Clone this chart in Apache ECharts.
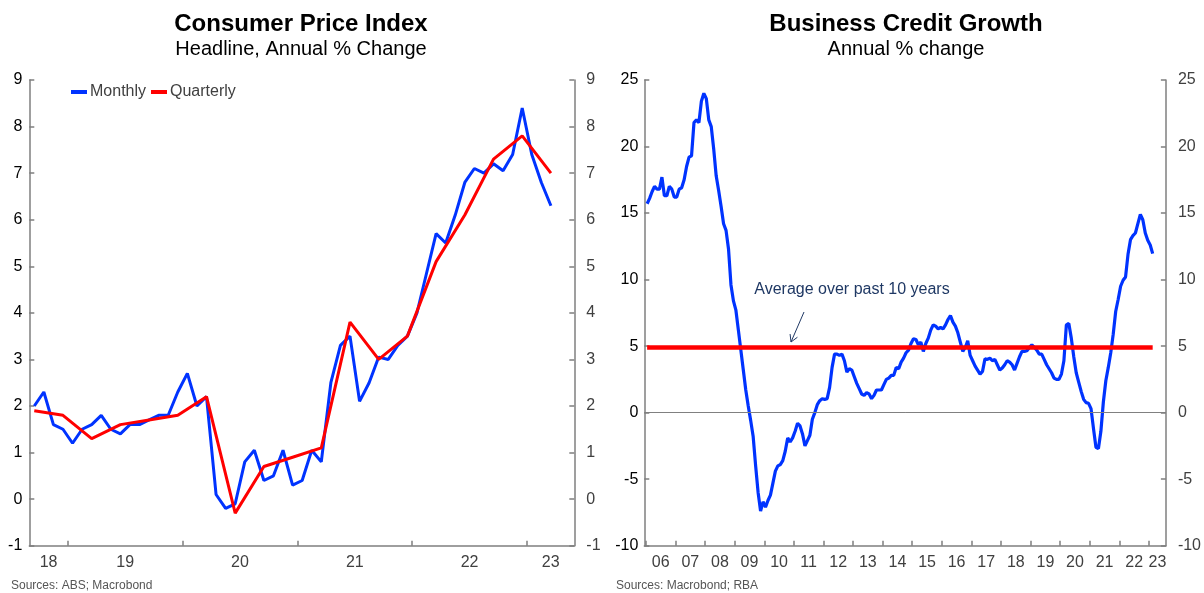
<!DOCTYPE html>
<html>
<head>
<meta charset="utf-8">
<script src="https://cdn.jsdelivr.net/npm/echarts@6/dist/echarts.min.js"></script>
<style>
html,body{margin:0;padding:0;background:#fff;}
#chart{width:1204px;height:593px;}
</style>
</head>
<body>
<div id="chart"></div>
<script>
// CPI, annual % change, monthly indicator starts Sep 2018
var cpiStart = [2018, 9];
var cpiMonthly = [
    2.0, 2.3, 1.6, 1.5,
    1.2, 1.5, 1.6, 1.8, 1.5, 1.4, 1.6, 1.6, 1.7, 1.8, 1.8, 2.3,
    2.7, 2.0, 2.2, 0.1, -0.2, -0.1, 0.8, 1.05, 0.4, 0.5, 1.05, 0.3,
    0.4, 1.05, 0.8, 2.5, 3.3, 3.5, 2.1, 2.5, 3.05, 3.0, 3.3, 3.5,
    4.0, 4.85, 5.7, 5.5, 6.1, 6.8, 7.1, 7.0, 7.2, 7.05, 7.4, 8.4,
    7.4, 6.8, 6.3
];
// quarterly CPI, Sep qtr 2018 onwards
var cpiQStart = [2018, 9];
var cpiQuarterly = [1.9, 1.8, 1.3, 1.6, 1.7, 1.8, 2.2, -0.3, 0.7, 0.9, 1.1, 3.8, 3.0, 3.5, 5.1, 6.1, 7.3, 7.8, 7.0];
var cpiYears = [2018, 2019, 2020, 2021, 2022, 2023];

// business credit, annual % change, Jan 2006 onwards
var creditStart = [2006, 1];
var creditGrowth = [
    15.7, 16.1, 16.6, 17.0, 16.8, 16.8, 17.7, 16.3, 16.3, 17.0, 16.8, 16.2,
    16.2, 16.8, 16.9, 17.5, 18.5, 19.2, 19.3, 21.8, 22.0, 21.8, 23.4, 24.0,
    23.6, 22.0, 21.5, 19.8, 17.8, 16.7, 15.5, 14.2, 13.7, 12.3, 9.6, 8.4,
    7.7, 6.2, 4.7, 3.2, 1.7, 0.5, -0.6, -1.8, -4.0, -6.0, -7.4, -6.7,
    -7.1, -6.6, -6.2, -5.3, -4.4, -4.0, -3.9, -3.6, -2.9, -1.9, -2.2, -1.9,
    -1.4, -0.8, -1.0, -1.6, -2.5, -2.1, -1.7, -0.5, 0.0, 0.6, 0.9, 1.05,
    1.0, 1.05, 1.9, 3.4, 4.4, 4.4, 4.3, 4.4, 3.9, 3.05, 3.3, 3.2,
    2.7, 2.2, 1.8, 1.4, 1.3, 1.5, 1.4, 1.05, 1.3, 1.7, 1.7, 1.7,
    2.1, 2.5, 2.6, 2.8, 2.8, 3.4, 3.3, 3.8, 4.1, 4.5, 4.7, 5.2,
    5.55, 5.5, 5.1, 5.3, 4.6, 5.2, 5.6, 6.2, 6.6, 6.5, 6.3, 6.4,
    6.3, 6.6, 7.0, 7.3, 6.8, 6.5, 6.0, 5.3, 4.6, 4.9, 5.4, 4.3,
    3.9, 3.5, 3.2, 2.9, 3.1, 4.05, 4.0, 4.1, 3.9, 4.0, 3.6, 3.2,
    3.35, 3.6, 3.9, 3.8, 3.6, 3.2, 3.7, 4.2, 4.6, 4.6, 4.65, 4.9,
    5.1, 4.9, 4.7, 4.4, 4.4, 4.0, 3.6, 3.3, 3.0, 2.6, 2.5, 2.5,
    2.9, 3.9, 6.6, 6.7, 5.6, 4.2, 3.0, 2.3, 1.6, 1.0, 0.75, 0.7,
    0.3, -1.2, -2.6, -2.7, -1.4, 0.8, 2.4, 3.4, 4.5, 5.9, 7.6, 8.5,
    9.5, 9.95, 10.2, 11.9, 13.0, 13.3, 13.5, 14.2, 14.9, 14.5, 13.5, 12.95,
    12.6, 11.95
];
var creditAvg = 4.9;
var creditYears = [2006, 2007, 2008, 2009, 2010, 2011, 2012, 2013, 2014, 2015, 2016, 2017, 2018, 2019, 2020, 2021, 2022, 2023];

var blue = '#0033ff';
var red = '#ff0000';
var axisGrey = '#7f7f7f';
var labelGrey = '#404040';
var navy = '#1f3864';

var cpiMin = 2018.665, cpiMax = 2023.412;
var crMin = 2005.946, crMax = 2023.571;

function toSeries(start, vals, step) {
    var out = [];
    for (var i = 0; i < vals.length; i++) {
        var m = start[1] - 1 + i * step;
        out.push([start[0] + (m + 0.5) / 12, vals[i]]);
    }
    return out;
}

// ticks at year starts, labels centred in the visible part of each year
function yearTicks(years, lo, hi) {
    var t = [];
    for (var i = 0; i < years.length; i++) {
        if (years[i] > lo && years[i] < hi) t.push(years[i]);
    }
    return t;
}
function yearLabels(years, lo, hi) {
    var t = [];
    for (var i = 0; i < years.length; i++) {
        var a = Math.max(years[i], lo), b = Math.min(years[i] + 1, hi);
        t.push((a + b) / 2);
    }
    return t;
}
function yearText(v) {
    var y = Math.floor(v) % 100;
    return (y < 10 ? '0' : '') + y;
}

function xAxisOf(grid, lo, hi, years) {
    return {
        type: 'value', gridIndex: grid, min: lo, max: hi,
        axisLine: {onZero: false, lineStyle: {color: axisGrey, width: 1.5}},
        axisTick: {inside: true, length: 5, customValues: yearTicks(years, lo, hi), lineStyle: {color: axisGrey, width: 1.5}},
        axisLabel: {customValues: yearLabels(years, lo, hi), formatter: yearText, color: labelGrey, fontSize: 16,
            fontFamily: 'Liberation Sans', margin: 9},
        splitLine: {show: false}
    };
}
function yAxisOf(grid, pos, lo, hi, step, col, margin) {
    return {
        type: 'value', gridIndex: grid, position: pos, min: lo, max: hi, interval: step,
        axisLine: {show: true, onZero: false, lineStyle: {color: axisGrey, width: 1.5}},
        axisTick: {show: true, inside: true, length: 5, lineStyle: {color: axisGrey, width: 1.5}},
        axisLabel: {color: col, fontSize: 16, fontFamily: 'Liberation Sans', margin: margin},
        splitLine: {show: false}
    };
}

var crData = toSeries(creditStart, creditGrowth, 1);
var avgData = [[crData[0][0], creditAvg], [crData[crData.length - 1][0], creditAvg]];

// little arrow for the annotation
var arrowFrom = [804, 312], arrowTo = [791, 342];
var dx = arrowTo[0] - arrowFrom[0], dy = arrowTo[1] - arrowFrom[1];
var len = Math.sqrt(dx * dx + dy * dy);
var ux = dx / len, uy = dy / len;
function arm(sign) {
    var ang = sign * Math.PI / 6, hl = 8;
    var rx = ux * Math.cos(ang) - uy * Math.sin(ang);
    var ry = ux * Math.sin(ang) + uy * Math.cos(ang);
    return [arrowTo[0] - rx * hl, arrowTo[1] - ry * hl];
}

var myChart = echarts.init(document.getElementById('chart'), null, {renderer: 'canvas'});
var option = {
    animation: false,
    textStyle: {fontFamily: 'Liberation Sans'},
    title: [
        {text: 'Consumer Price Index', subtext: 'Headline, Annual % Change', left: 301, top: 12, textAlign: 'center',
            itemGap: 3, padding: 0,
            textStyle: {fontSize: 24, fontWeight: 'bold', color: '#000', fontFamily: 'Liberation Sans'},
            subtextStyle: {fontSize: 20, color: '#000', fontFamily: 'Liberation Sans'}},
        {text: 'Business Credit Growth', subtext: 'Annual % change', left: 906, top: 12, textAlign: 'center',
            itemGap: 3, padding: 0,
            textStyle: {fontSize: 24, fontWeight: 'bold', color: '#000', fontFamily: 'Liberation Sans'},
            subtextStyle: {fontSize: 20, color: '#000', fontFamily: 'Liberation Sans'}}
    ],
    legend: {
        data: ['Monthly', 'Quarterly'], left: 71, top: 84, padding: 0, icon: 'rect', itemWidth: 16, itemHeight: 4, itemGap: 5,
        textStyle: {fontSize: 16, color: labelGrey, fontFamily: 'Liberation Sans', padding: [0, 0, 0, -2]}
    },
    grid: [
        {left: 29.3, top: 80, width: 545, height: 465.7},
        {left: 644.3, top: 80, width: 525, height: 465.7}
    ],
    xAxis: [
        xAxisOf(0, cpiMin, cpiMax, cpiYears),
        xAxisOf(1, crMin, crMax, creditYears)
    ],
    yAxis: [
        yAxisOf(0, 'left', -1, 9, 1, '#000', 7),
        yAxisOf(0, 'right', -1, 9, 1, labelGrey, 12),
        yAxisOf(1, 'left', -10, 25, 5, '#000', 6),
        yAxisOf(1, 'right', -10, 25, 5, labelGrey, 12)
    ],
    series: [
        {name: 'Monthly', type: 'line', xAxisIndex: 0, yAxisIndex: 0, data: toSeries(cpiStart, cpiMonthly, 1),
            showSymbol: false, lineStyle: {color: blue, width: 3}, itemStyle: {color: blue}, z: 3},
        {name: 'Quarterly', type: 'line', xAxisIndex: 0, yAxisIndex: 0, data: toSeries(cpiQStart, cpiQuarterly, 3),
            showSymbol: false, lineStyle: {color: red, width: 3}, itemStyle: {color: red}, z: 4},
        {name: 'zero', type: 'line', xAxisIndex: 1, yAxisIndex: 2, data: [], z: 1,
            markLine: {silent: true, symbol: 'none', label: {show: false},
                lineStyle: {color: '#808080', width: 1, type: 'solid'}, data: [{yAxis: 0}]}},
        {name: 'Business credit', type: 'line', xAxisIndex: 1, yAxisIndex: 2, data: crData,
            showSymbol: false, lineStyle: {color: blue, width: 3.2}, itemStyle: {color: blue}, z: 3},
        {name: 'Average', type: 'line', xAxisIndex: 1, yAxisIndex: 2, data: avgData,
            showSymbol: false, lineStyle: {color: red, width: 4.5}, itemStyle: {color: red}, z: 4}
    ],
    graphic: [
        {type: 'text', left: 11, top: 580, style: {text: 'Sources: ABS; Macrobond', fontSize: 12, fill: '#555', fontFamily: 'Liberation Sans'}},
        {type: 'text', left: 616, top: 580, style: {text: 'Sources: Macrobond; RBA', fontSize: 12, fill: '#555', fontFamily: 'Liberation Sans'}},
        {type: 'text', x: 852, y: 290, style: {text: 'Average over past 10 years', fontSize: 16, fill: navy,
            fontFamily: 'Liberation Sans', align: 'center', verticalAlign: 'middle'}},
        {type: 'line', shape: {x1: arrowFrom[0], y1: arrowFrom[1], x2: arrowTo[0], y2: arrowTo[1]},
            style: {stroke: navy, lineWidth: 1}},
        {type: 'polyline', shape: {points: [arm(1), arrowTo, arm(-1)]},
            style: {stroke: navy, lineWidth: 1, fill: null}}
    ]
};
myChart.setOption(option);
</script>
</body>
</html>
